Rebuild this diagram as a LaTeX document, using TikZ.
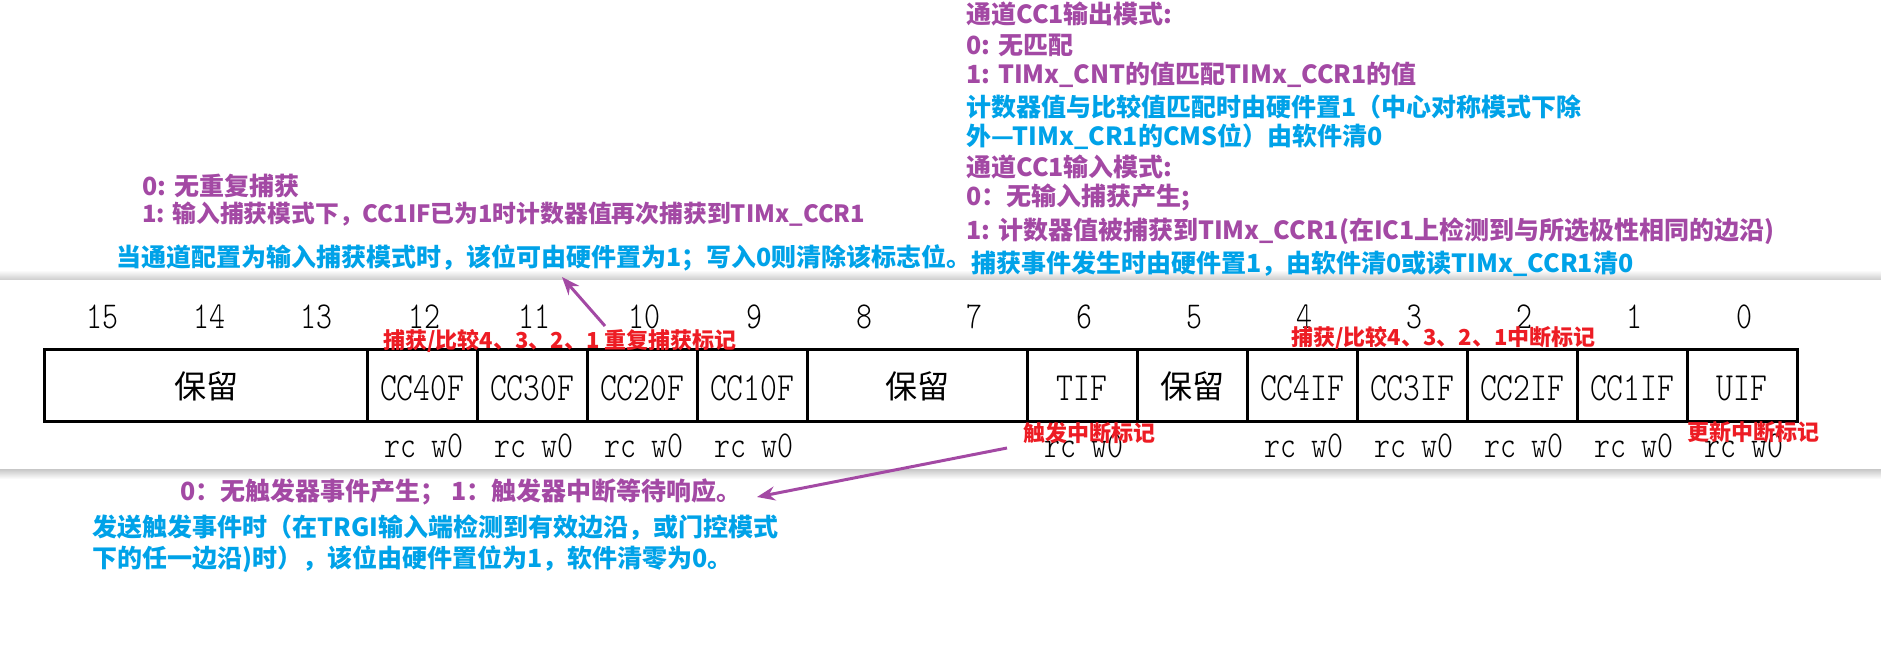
\documentclass[tikz,border=0pt]{standalone}
\usepackage{fontspec}
\usepackage{tikz}
\newfontfamily\notefont{Noto Sans CJK SC}
\newfontfamily\regfont[FakeStretch=0.8]{Latin Modern Mono Light}
\usetikzlibrary{arrows.meta}
\definecolor{cmtpurple}{RGB}{163,73,164}
\definecolor{cmtblue}{RGB}{0,162,232}
\definecolor{cmtred}{RGB}{237,28,36}

\begin{document}
\begin{tikzpicture}[x=0.5pt,y=-0.5pt,
    bitno/.style={font=\regfont\fontsize{19}{21}\selectfont,anchor=base,inner sep=0pt},
    bitname/.style={bitno,font=\regfont\fontsize{20}{22}\selectfont},
    rsvd/.style={font=\notefont\fontsize{16}{18}\selectfont,inner sep=0pt},
    redmark/.style={font=\notefont\bfseries\fontsize{11}{13}\selectfont,text=cmtred,anchor=west,inner sep=0pt},
    ptxt/.style={font=\notefont\bfseries\fontsize{12.5}{14}\selectfont,text=cmtpurple,anchor=west,inner sep=0pt},
    btxt/.style={ptxt,text=cmtblue},
    pointer/.style={cmtpurple,line width=1.5pt,-{Stealth[length=9pt,width=7pt]}}]

    \useasboundingbox (0,0) rectangle (1881,654);

    % panel edges
    \fill[top color=white,bottom color=black!18] (0,270) rectangle (1881,279);
    \fill[top color=black!22,bottom color=white] (0,469) rectangle (1881,479);

    % register
    \draw[line width=1.5pt] (44,349) rectangle (1797,421);
    \foreach \x in {367,477,587,697,807,1027,1137,1247,1357,1467,1577,1687}
        \draw[line width=1.5pt] (\x,349) -- (\x,421);

    \node[bitno] (b15) at (102,328) {15};
    \node[bitno] (b14) at (209,328) {14};
    \node[bitno] (b13) at (316,328) {13};
    \foreach \b in {0,...,12}
        \node[bitno] (b\b) at ({424+(12-\b)*110},328) {\b};

    \node[rsvd] (f15) at (206,386) {保留};
    \node[rsvd] (f8) at (917,386) {保留};
    \node[rsvd] (f5) at (1192,386) {保留};
    \foreach \b/\t in {12/CC40F,11/CC30F,10/CC20F,9/CC10F,6/TIF,4/CC4IF,3/CC3IF,2/CC2IF,1/CC1IF,0/UIF}
        \node[bitname] (f\b) at ({422+(12-\b)*110},400) {\t};
    \foreach \b in {12,11,10,9,6,4,3,2,1,0}
        \node[bitno] (a\b) at ({424+(12-\b)*110},457) {rc w0};

    % red marks
    \node[redmark] (ofmark) at (383,341) {捕获/比较4、3、2、1 重复捕获标记};
    \node[redmark] (ifmark) at (1291,338) {捕获/比较4、3、2、1中断标记};
    \node[redmark] (tmark) at (1023,433) {触发中断标记};
    \node[redmark] (umark) at (1687,432) {更新中断标记};

    % CCxOF note
    \node[ptxt] (of0) at (142,186) {0: 无重复捕获};
    \node[ptxt,font=\notefont\bfseries\fontsize{11.9}{14}\selectfont] (of1) at (142,214) {1: 输入捕获模式下，CC1IF已为1时计数器值再次捕获到TIMx\_CCR1};
    \node[btxt] (ofb) at (116,258) {当通道配置为输入捕获模式时，该位可由硬件置为1；写入0则清除该标志位。};
    \coordinate (oftail) at (605,326);
    \coordinate (ofhead) at (562,277);
    \draw[pointer] (oftail) -- (ofhead);

    % CCxIF note
    \node[ptxt] (if1) at (966,14) {通道CC1输出模式:};
    \node[ptxt] (if2) at (966,45) {0: 无匹配};
    \node[ptxt] (if3) at (966,75) {1: TIMx\_CNT的值匹配TIMx\_CCR1的值};
    \node[btxt] (if4) at (966,107) {计数器值与比较值匹配时由硬件置1（中心对称模式下除};
    \node[btxt] (if5) at (966,137) {外—TIMx\_CR1的CMS位）由软件清0};
    \node[ptxt] (if6) at (966,167) {通道CC1输入模式:};
    \node[ptxt] (if7) at (966,198) {0：无输入捕获产生;};
    \node[ptxt] (if8) at (966,231) {1: 计数器值被捕获到TIMx\_CCR1(在IC1上检测到与所选极性相同的边沿)};
    \node[btxt] (if9) at (971,264) {捕获事件发生时由硬件置1，由软件清0或读TIMx\_CCR1清0};

    % TIF note
    \node[ptxt] (tf0) at (180,492) {0：无触发器事件产生； 1：触发器中断等待响应。};
    \node[btxt] (tf1) at (92,528) {发送触发事件时（在TRGI输入端检测到有效边沿，或门控模式};
    \node[btxt] (tf2) at (92,559) {下的任一边沿)时），该位由硬件置位为1，软件清零为0。};
    \coordinate (tftail) at (1007,448);
    \coordinate (tfhead) at (757,497);
    \draw[pointer] (tftail) -- (tfhead);

\end{tikzpicture}
\end{document}
